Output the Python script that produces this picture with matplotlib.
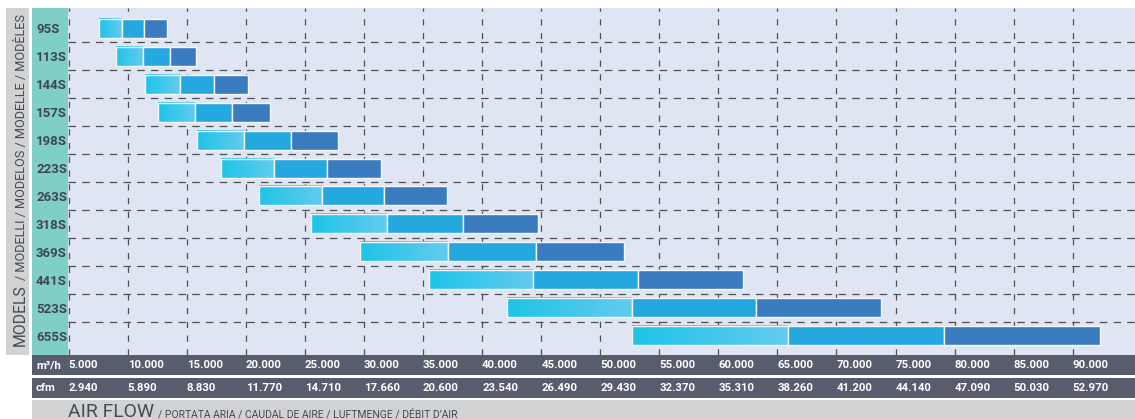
import numpy as np
import matplotlib
matplotlib.use("Agg")
import matplotlib.pyplot as plt
from matplotlib.patches import Rectangle
from matplotlib.colors import LinearSegmentedColormap
import matplotlib.transforms as mtransforms

# data (air flow ranges in m3/h)
models = ["95S", "113S", "144S", "157S", "198S", "223S", "263S", "318S",
          "369S", "441S", "523S", "655S"]
flow_min = [7600, 9000, 11500, 12550, 15900, 17900, 21100, 25550,
            29700, 35500, 42100, 52700]
flow_max = [13300, 15800, 20200, 22000, 27800, 31400, 37050, 44750,
            52000, 62050, 73750, 92300]
m3h_ticks = [5000, 10000, 15000, 20000, 25000, 30000, 35000, 40000, 45000,
             50000, 55000, 60000, 65000, 70000, 75000, 80000, 85000, 90000]
cfm_labels = ["2.940", "5.890", "8.830", "11.770", "14.710", "17.660",
              "20.600", "23.540", "26.490", "29.430", "32.370", "35.310",
              "38.260", "41.200", "44.140", "47.090", "50.030", "52.970"]

W, H = 1135, 419
plt.rcParams['font.family'] = ['Roboto', 'DejaVu Sans']
fig = plt.figure(figsize=(W / 100, H / 100), dpi=100)

# colours
bg = '#dfe5f2'
teal = '#7fcfc7'
lgrey = '#d1d2d4'
dgrey = '#575d6c'
txt = '#3f4652'
title_c = '#454a53'
c2 = '#25a7df'
c3 = '#3a7bbf'
grad = LinearSegmentedColormap.from_list('g', ['#1ec4e8', '#63cbee'])


def frect(x0, y0, x1, y1, color):
    # rectangle given in pixel coords (top-left origin)
    fig.add_artist(Rectangle((x0 / W, 1 - y1 / H), (x1 - x0) / W, (y1 - y0) / H,
                             transform=fig.transFigure, color=color, lw=0, zorder=0))


frect(6, 8, 29, 355, lgrey)
frect(32, 8, 68, 355, teal)
frect(32, 355, 1135, 374.5, dgrey)
frect(32, 377.5, 1135, 397.5, dgrey)
frect(32, 400, 1135, 419, lgrey)

ax = fig.add_axes([68 / W, 1 - 355 / H, (1135 - 68) / W, (355 - 8) / H])
ax.set_facecolor(bg)
for s in ax.spines.values():
    s.set_visible(False)

bh = 0.68
for i in range(len(models)):
    lo, hi = flow_min[i], flow_max[i]
    step = (hi - lo) / 3
    g = np.linspace(0, 1, 64).reshape(1, -1)
    ax.imshow(g, cmap=grad, aspect='auto', extent=[lo, lo + step, i + bh / 2, i - bh / 2],
              zorder=3, interpolation='bilinear')
    ax.barh(i, step, left=lo, height=bh, color='none', edgecolor='#f4f8fc', lw=1.0, zorder=4)
    ax.barh(i, step, left=lo + step, height=bh, color=c2, edgecolor='#f4f8fc', lw=1.0, zorder=4)
    ax.barh(i, step, left=lo + 2 * step, height=bh, color=c3, edgecolor='#f4f8fc', lw=1.0, zorder=4)

ax.set_xlim(4940, 95275)
ax.set_ylim(11.69, -0.727)

ax.set_xticks(m3h_ticks)
ax.set_yticks(range(len(models)))
ax.set_yticks(np.arange(0.5, len(models) - 1, 1), minor=True)
ax.set_yticklabels(models, fontsize=9.5, fontweight='bold', color=txt, ha='left')
ax.tick_params(axis='y', which='major', length=0, pad=23)
ax.tick_params(axis='y', which='minor', length=0)
ax.tick_params(axis='x', length=0, labelbottom=False)
ax.grid(axis='x', which='major', color='#4d4f55', lw=0.9, linestyle=(0, (5, 6)), zorder=1)
ax.grid(axis='y', which='minor', color='#4d4f55', lw=0.9, linestyle=(0, (6, 5)), zorder=1)
ax.set_axisbelow(True)

# flow scale rows
tr = mtransforms.blended_transform_factory(ax.transData, fig.transFigure)
for v, c in zip(m3h_ticks, cfm_labels):
    ax.text(v, 1 - 365 / H, f"{v:,}".replace(',', '.'), transform=tr, ha='left',
            va='center', color='white', fontsize=8.2, fontweight='bold', clip_on=False)
    ax.text(v, 1 - 387.5 / H, c, transform=tr, ha='left',
            va='center', color='white', fontsize=8.2, fontweight='bold', clip_on=False)
fig.text(36 / W, 1 - 365 / H, "m³/h", ha='left', va='center', color='white',
         fontsize=8.2, fontweight='bold')
fig.text(36 / W, 1 - 387.5 / H, "cfm", ha='left', va='center', color='white',
         fontsize=8.2, fontweight='bold')

r = fig.canvas.get_renderer()


def fit(t, length, vertical=False):
    # scale the font so the text is about as long as in the reference
    bb = t.get_window_extent(r)
    cur = bb.height if vertical else bb.width
    t.set_fontsize(t.get_fontsize() * length / cur)
    bb = t.get_window_extent(r)
    return bb.height if vertical else bb.width


# bottom title
t1 = fig.text(68 / W, 1 - 417 / H, "AIR FLOW", ha='left', va='baseline', color=title_c,
              fontsize=12.5)
w1 = fit(t1, 86)
t1b = fig.text((68 + w1 + 4) / W, 1 - 417 / H,
               "/ PORTATA ARIA / CAUDAL DE AIRE / LUFTMENGE / DÉBIT D’AIR",
               ha='left', va='baseline', color=title_c, fontsize=8.6)
fit(t1b, 300)

# left rotated title
t2 = fig.text(25 / W, 1 - 346 / H, "MODELS", rotation=90, rotation_mode='anchor',
              ha='left', va='baseline', color=title_c, fontsize=12.5)
h2 = fit(t2, 62, vertical=True)
t2b = fig.text(25 / W, 1 - (346 - h2 - 4) / H, "/ MODELLI / MODELOS / MODELLE / MODÈLES",
               rotation=90, rotation_mode='anchor', ha='left', va='baseline',
               color=title_c, fontsize=9)
fit(t2b, 268, vertical=True)

fig.savefig("out.png", dpi=100)
